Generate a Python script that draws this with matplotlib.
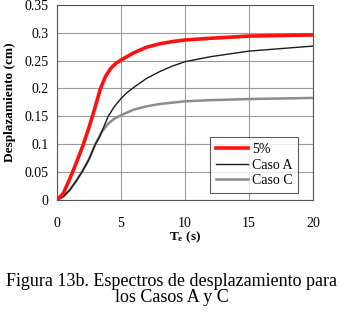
import numpy as np
import matplotlib
matplotlib.use("Agg")
import matplotlib.pyplot as plt

plt.rcParams['font.family'] = ['Liberation Serif', 'DejaVu Serif']
plt.rcParams['mathtext.fontset'] = 'custom'
plt.rcParams['mathtext.bf'] = 'Liberation Serif:bold'
plt.rcParams['mathtext.rm'] = 'Liberation Serif'

# Periodo (s) y desplazamiento (cm)
t_red = [0, 0.5, 1, 1.5, 2, 2.5, 3, 3.4, 3.8, 4.2, 4.6, 5, 6, 7, 8, 9, 10, 12, 15, 20]
d_red = [0, 0.012, 0.038, 0.066, 0.096, 0.130, 0.168, 0.200, 0.222, 0.236, 0.245, 0.251,
         0.264, 0.274, 0.280, 0.284, 0.287, 0.290, 0.294, 0.296]

t_a = [0, 0.5, 1, 1.5, 2, 2.5, 3, 3.3, 3.6, 4, 4.5, 5, 5.5, 6, 7, 8, 9, 10, 12, 15, 20]
d_a = [0, 0.006, 0.018, 0.034, 0.052, 0.073, 0.100, 0.112, 0.128, 0.150, 0.168, 0.182,
       0.193, 0.202, 0.218, 0.230, 0.240, 0.248, 0.257, 0.267, 0.276]

t_c = [0, 0.5, 1, 1.5, 2, 2.5, 3, 3.5, 4, 4.5, 5, 6, 7, 8, 10, 12, 15, 20]
d_c = [0, 0.006, 0.018, 0.034, 0.052, 0.073, 0.100, 0.122, 0.137, 0.146, 0.152, 0.162,
       0.168, 0.172, 0.177, 0.179, 0.181, 0.183]

fig = plt.figure(figsize=(3.44, 3.23), dpi=100)
ax = fig.add_axes([0.1657, 0.381, 0.744, 0.604])

ax.plot(t_c, d_c, color='#8c8c8c', lw=1.8, label='Caso C', zorder=2)
ax.plot(t_a, d_a, color='#1a1a1a', lw=1.0, label='Caso A', zorder=3)
ax.plot(t_red, d_red, color='#ff1010', lw=2.6, label='5%', zorder=4)

ax.set_xlim(0, 20)
ax.set_ylim(0, 0.35)
ax.set_xticks([0, 5, 10, 15, 20])
ax.set_yticks(np.arange(0, 0.351, 0.05))
ax.set_yticklabels(['0', '0.05', '0.1', '0.15', '0.2', '0.25', '0.3', '0.35'])
ax.grid(True, color='#9a9a9a', lw=0.8)
ax.set_axisbelow(True)
ax.tick_params(axis='y', labelsize=10, length=0, pad=6)
ax.tick_params(axis='x', labelsize=10, length=0, pad=12)
for s in ax.spines.values():
    s.set_color('#555555')
    s.set_linewidth(0.8)

ax.set_ylabel('Desplazamiento (cm)', fontsize=9.5, fontweight='bold', labelpad=6)
ax.set_xlabel(r'$\mathbf{T_e}$ (s)', fontsize=9.5, fontweight='bold', labelpad=0)

handles, labels = ax.get_legend_handles_labels()
leg = ax.legend(handles[::-1], labels[::-1], loc='lower right', fontsize=10,
                handlelength=2.3, frameon=True, fancybox=False, borderpad=0.4,
                labelspacing=0.2, handletextpad=0.3, borderaxespad=0,
                bbox_to_anchor=(0.941, 0.036))
leg.get_frame().set_edgecolor('#333333')
leg.get_frame().set_linewidth(0.8)

fig.text(0.5, 0.127, 'Figura 13b. Espectros de desplazamiento para', ha='center', va='center', fontsize=13)
fig.text(0.5, 0.078, 'los Casos A y C', ha='center', va='center', fontsize=13)

fig.savefig('out.png', dpi=100)
